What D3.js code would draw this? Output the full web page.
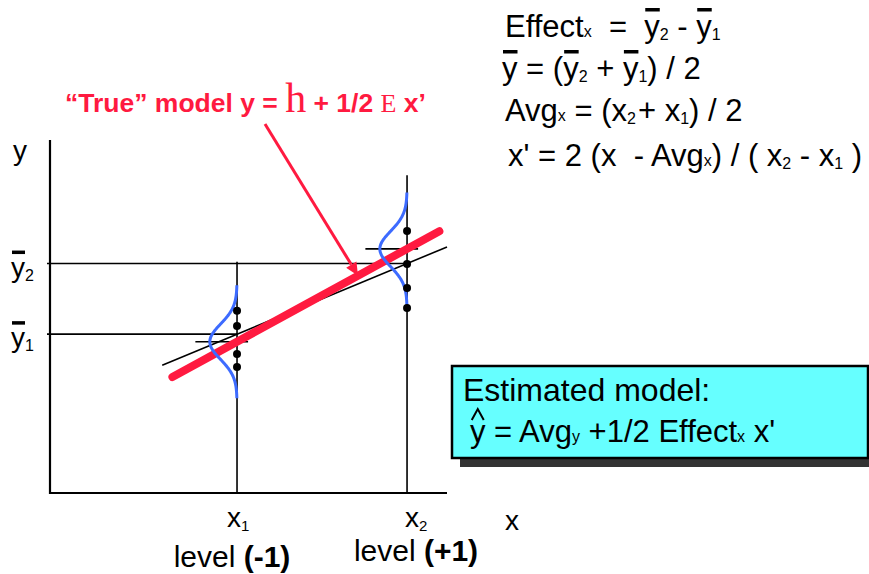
<!DOCTYPE html>
<html>
<head>
<meta charset="utf-8">
<script src="https://cdn.jsdelivr.net/npm/d3@7/dist/d3.min.js"></script>
<style>
  html, body { margin: 0; padding: 0; background: #fff; }
  svg { display: block; }
  text { font-family: "Liberation Sans", Arial, sans-serif; white-space: pre; }
</style>
</head>
<body>
<svg id="chart" width="869" height="574"></svg>
<script>
// Two-level factorial: coded factor levels and the observations at each level
const levels = [-1, 1];
const levelNames = ["x1", "x2"];
const obsLow = [5.16, 4.73, 3.94, 3.57];
const obsHigh = [7.42, 6.49, 5.81, 5.24];
const yBar = [4.5, 6.5];           // sample means at the low and high level
const trueMean = [4.285, 6.915];   // true response at each level
const sigma = 0.5;                 // spread of the response
const guideTop = [6.55, 9.0];      // top of each level's vertical guide
const trueSpan = [-1.76, 1.38];    // extent of the drawn true-model line (x')
const estSpan = [-1.88, 1.47];     // extent of the drawn estimated line (x')
const arrowAt = 0.424;             // x' where the label arrow meets the true line

const red = "#ff1a40";
const blue = "#3d6bff";

const svg = d3.select("#chart");
const x = d3.scaleLinear().domain([-3.2, 1.47]).range([50, 447]);
const y = d3.scaleLinear().domain([0, 10]).range([493, 140]);

const trueLine = xv => {
  const b = (trueMean[1] - trueMean[0]) / 2, a = (trueMean[1] + trueMean[0]) / 2;
  return a + b * xv;
};
const estLine = xv => {
  const b = (yBar[1] - yBar[0]) / 2, a = (yBar[1] + yBar[0]) / 2;
  return a + b * xv;
};

// draw a run of text pieces left to right; pieces may carry an overbar or a hat
function rich(g, x0, base, parts, color) {
  let cx = x0;
  parts.forEach(p => {
    const t = g.append("text")
      .attr("x", cx).attr("y", base + (p.dy || 0))
      .attr("fill", color || "#000")
      .style("font-size", (p.size || 31) + "px")
      .style("font-weight", p.bold ? "bold" : "normal")
      .style("font-family", p.serif ? "'Liberation Serif', 'Times New Roman', serif" : null)
      .text(p.t);
    const w = t.node().getComputedTextLength();
    if (p.bar) {
      g.append("rect")
        .attr("x", cx + 1).attr("y", base - (p.barY || 29))
        .attr("width", w - 1).attr("height", 3.5)
        .attr("fill", color || "#000");
    }
    if (p.hat) {
      const mx = cx + w / 2, top = base - 33, bot = base - 22;
      g.append("path")
        .attr("d", `M${mx - 6},${bot}L${mx},${top}L${mx + 6},${bot}`)
        .attr("fill", "none").attr("stroke", "#000").attr("stroke-width", 2);
    }
    cx += w + (p.gap || 0);
  });
  return cx;
}

// axes
const axes = svg.append("g").attr("stroke", "#000").attr("stroke-width", 2.2).attr("fill", "none");
axes.append("line").attr("x1", x(-3.2)).attr("x2", x(-3.2)).attr("y1", y(10)).attr("y2", y(0) + 1);
axes.append("line").attr("x1", x(-3.2) - 1).attr("x2", x(1.47)).attr("y1", y(0)).attr("y2", y(0));

// mean guides: horizontal from the y axis, vertical at each level
const guides = svg.append("g").attr("stroke", "#000").attr("stroke-width", 1.6);
levels.forEach((lv, i) => {
  guides.append("line").attr("x1", x(-3.2) - 3).attr("x2", x(lv))
    .attr("y1", y(yBar[i])).attr("y2", y(yBar[i]));
  guides.append("line").attr("x1", x(lv)).attr("x2", x(lv))
    .attr("y1", y(guideTop[i])).attr("y2", y(0));
  // marker for the true mean at this level
  guides.append("line").attr("x1", x(lv - 0.49)).attr("x2", x(lv + 0.13))
    .attr("y1", y(trueMean[i])).attr("y2", y(trueMean[i]));
});

// estimated line through the two sample means
svg.append("line")
  .attr("x1", x(estSpan[0])).attr("y1", y(estLine(estSpan[0])))
  .attr("x2", x(estSpan[1])).attr("y2", y(estLine(estSpan[1])))
  .attr("stroke", "#000").attr("stroke-width", 1.6);

// true model line
svg.append("line")
  .attr("x1", x(trueSpan[0])).attr("y1", y(trueLine(trueSpan[0])))
  .attr("x2", x(trueSpan[1])).attr("y2", y(trueLine(trueSpan[1])))
  .attr("stroke", red).attr("stroke-width", 8).attr("stroke-linecap", "round");

// normal curves of the response at each level
const bellWidth = 0.32;
const zs = d3.range(-3.2, 3.2001, 0.05);
const bell = d3.line().x(d => d[0]).y(d => d[1]).curve(d3.curveBasis);
levels.forEach((lv, i) => {
  const pts = zs.map(z => [x(lv - bellWidth * Math.exp(-z * z / 2)), y(trueMean[i] + z * sigma)]);
  svg.append("path").attr("d", bell(pts))
    .attr("fill", "none").attr("stroke", blue).attr("stroke-width", 3);
});

// observations
[obsLow, obsHigh].forEach((obs, i) => {
  svg.append("g").selectAll("circle").data(obs).join("circle")
    .attr("cx", x(levels[i])).attr("cy", d => y(d)).attr("r", 4).attr("fill", "#000");
});

// label arrow pointing at the true line
const ax1 = 265, ay1 = 124;
const ax2 = x(arrowAt), ay2 = y(trueLine(arrowAt));
const ang = Math.atan2(ay2 - ay1, ax2 - ax1);
const hl = 13, hw = 6;
const bx = ax2 - hl * Math.cos(ang), by = ay2 - hl * Math.sin(ang);
svg.append("line").attr("x1", ax1).attr("y1", ay1).attr("x2", bx).attr("y2", by)
  .attr("stroke", red).attr("stroke-width", 3);
svg.append("path")
  .attr("d", `M${ax2},${ay2}L${bx + hw * Math.sin(ang)},${by - hw * Math.cos(ang)}L${bx - hw * Math.sin(ang)},${by + hw * Math.cos(ang)}Z`)
  .attr("fill", red);

// true model label
const lbl = svg.append("g");
rich(lbl, 65, 112, [
  { t: "\u201cTrue\u201d model y = ", size: 26.5, bold: true },
  { t: "h", size: 42, serif: true },
  { t: " + 1/2 ", size: 26.5, bold: true },
  { t: "E", size: 26, serif: true },
  { t: " x\u2019", size: 26.5, bold: true }
], red);

// formulas
const f = svg.append("g");
rich(f, 505, 37, [
  { t: "Effect" }, { t: "x", size: 16 }, { t: "  =  " },
  { t: "y", bar: true }, { t: "2", size: 16, dy: 3 }, { t: " - " },
  { t: "y", bar: true }, { t: "1", size: 16, dy: 3 }
]);
rich(f, 502, 79, [
  { t: "y", bar: true }, { t: " = (" },
  { t: "y", bar: true }, { t: "2", size: 16, dy: 3 }, { t: " + " },
  { t: "y", bar: true }, { t: "1", size: 16, dy: 3 }, { t: ") / 2" }
]);
rich(f, 505, 121, [
  { t: "Avg" }, { t: "x", size: 16 }, { t: " = (x" }, { t: "2", size: 16, dy: 3, gap: 2 },
  { t: "+ x" }, { t: "1", size: 16, dy: 3 }, { t: ") / 2" }
]);
rich(f, 508, 166, [
  { t: "x' = 2 (x  - Avg" }, { t: "x", size: 16 }, { t: ") / ( x" }, { t: "2", size: 16, dy: 3 },
  { t: " - x" }, { t: "1", size: 16, dy: 3 }, { t: " )" }
]);

// estimated model box with drop shadow
const bxL = 452, bxT = 366, bxW = 416, bxH = 92;
svg.append("rect").attr("x", bxL + 8).attr("y", bxT + 9).attr("width", bxW).attr("height", bxH).attr("fill", "#333");
svg.append("rect").attr("x", bxL).attr("y", bxT).attr("width", bxW).attr("height", bxH)
  .attr("fill", "#66ffff").attr("stroke", "#000").attr("stroke-width", 2.5);
const bt = svg.append("g");
rich(bt, 463, 401, [{ t: "Estimated model:", size: 32 }]);
rich(bt, 470, 442, [
  { t: "y", hat: true }, { t: " = Avg" }, { t: "y", size: 16 }, { t: " +1/2 Effect" },
  { t: "x", size: 16 }, { t: " x'" }
]);

// axis titles and tick labels
const al = svg.append("g");
al.append("text").attr("x", 13).attr("y", 160).style("font-size", "28px").text("y");
[0, 1].forEach(i => {
  const b = y(yBar[i]) + 13;
  rich(al, 11, b, [{ t: "y", size: 28, bar: true, barY: 26 }, { t: levelNames[i].slice(1), size: 16, dy: 4 }]);
});
al.append("text").attr("x", 505).attr("y", 530).style("font-size", "28px").text("x");
const xLabelShift = [-10, -2];
levels.forEach((lv, i) => {
  rich(al, x(lv) + xLabelShift[i], 527, [{ t: "x", size: 28 }, { t: levelNames[i].slice(1), size: 15, dy: 4 }]);
});
const levelText = [["level ", "(-1)"], ["level ", "(+1)"]];
const levelBase = [567, 561];
const levelCenter = [232, 416];
levels.forEach((lv, i) => {
  const g = al.append("g");
  const end = rich(g, 0, levelBase[i], [{ t: levelText[i][0], size: 30 }, { t: levelText[i][1], size: 30, bold: true }]);
  g.attr("transform", `translate(${levelCenter[i] - end / 2},0)`);
});
</script>
</body>
</html>
